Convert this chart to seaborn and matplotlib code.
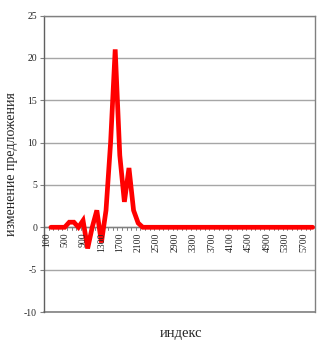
import numpy as np
import pandas as pd
import matplotlib
matplotlib.use("Agg")
import matplotlib.pyplot as plt
import seaborn as sns

# categories (index values) and series
categories = list(range(100, 6000, 100))
values_head = [np.nan, 0, 0, 0, 0, 0.6, 0.6, 0, 0.8, -2.5, 0, 2.0, -1.8, 2.0,
               10.0, 21.0, 8.5, 3.0, 7.0, 2.0, 0.5]
values = values_head + [0.0] * (len(categories) - len(values_head))
tick_labels = [str(c) for c in categories[::4]]
y_ticks = [-10, -5, 0, 5, 10, 15, 20, 25]

sns.set_style("white")
plt.rcParams['font.family'] = ['Liberation Serif', 'DejaVu Serif']

df = pd.DataFrame({"pos": np.arange(len(categories)), "value": values})

fig = plt.figure(figsize=(3.25, 3.56), dpi=100)
ax = fig.add_axes([44 / 325, 1 - 312 / 356, (315 - 44) / 325, (312 - 15.5) / 356])

sns.lineplot(data=df, x="pos", y="value", ax=ax, color="#ff0000", linewidth=3.4,
             solid_joinstyle="miter")

ax.set_xlim(-0.5, len(categories) - 0.5)
ax.set_ylim(-10, 25)
ax.set_yticks(y_ticks)
ax.set_yticklabels([str(t) for t in y_ticks], fontsize=7)
ax.yaxis.grid(True, color="#a6a6a6", linewidth=1)
ax.set_axisbelow(True)
ax.tick_params(axis="y", direction="out", length=3, width=0.8, color="#808080", pad=2, left=True)

# category axis crossing at zero
ax.spines["bottom"].set_visible(False)
ax.axhline(0, color="#808080", linewidth=1, zorder=1.5)
ax.set_xticks(np.arange(0, len(categories), 4))
ax.set_xticklabels([])
for p, lab in zip(np.arange(0, len(categories), 4), tick_labels):
    ax.text(p, -0.6, lab, rotation=90, ha="center", va="top", fontsize=7)
ax.tick_params(axis="x", length=0)
for b in np.arange(-0.5, len(categories), 1):
    ax.plot([b, b], [0, -0.35], color="#808080", linewidth=0.7, zorder=1.5)

# box border
ax.plot([-0.5, len(categories) - 0.5], [-10, -10], color="#808080", linewidth=1.2, clip_on=False)
for s in ["top", "right", "left"]:
    ax.spines[s].set_visible(True)
    ax.spines[s].set_color("#808080")
    ax.spines[s].set_linewidth(1.0)
ax.spines["left"].set_color("#606060")

ax.set_xlabel("")
ax.set_ylabel("изменение предложения", fontsize=10, labelpad=4)
fig.text(181 / 325, 1 - 333 / 356, "индекс", ha="center", va="center", fontsize=10.5)

fig.savefig("out.png", dpi=100)
